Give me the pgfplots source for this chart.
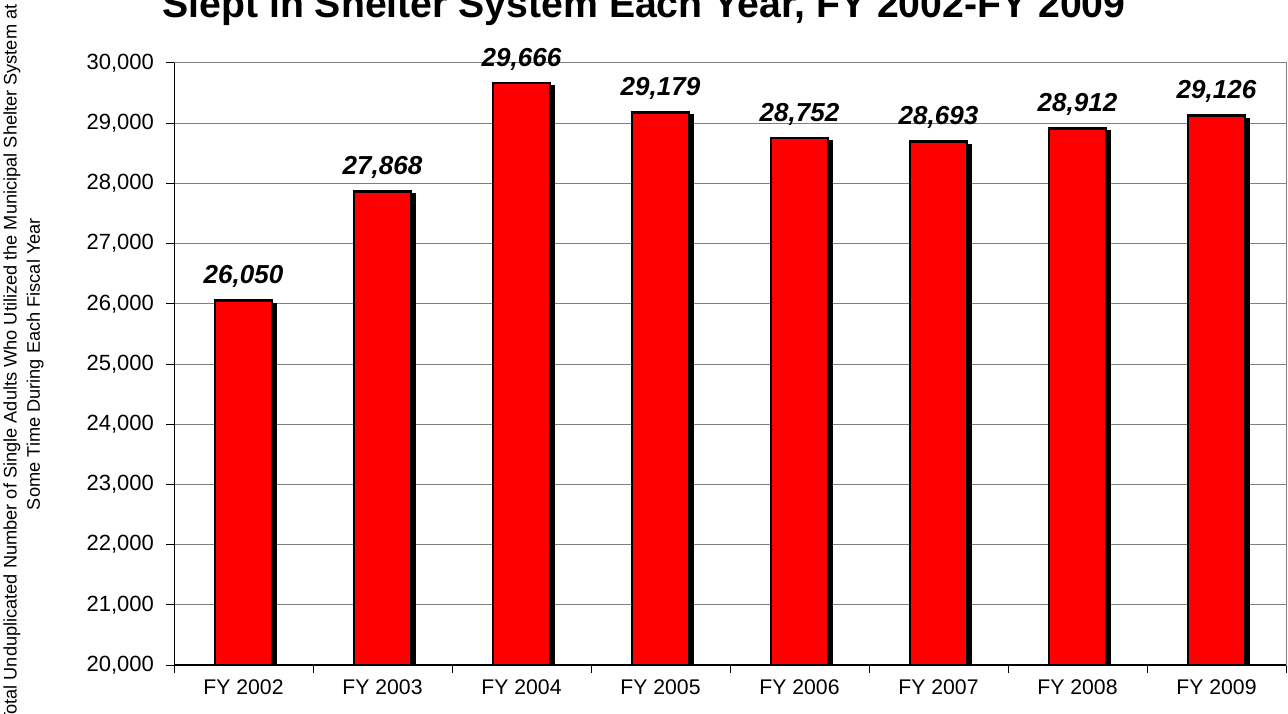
\documentclass[border=0pt]{standalone}
\usepackage{pgfplots}
\pgfplotsset{compat=1.18}
\usepackage{fontspec}
\setmainfont{Liberation Sans}
\definecolor{gridgray}{RGB}{128,128,128}
\begin{document}
\begin{tikzpicture}
\useasboundingbox (0,0) rectangle (644pt,356.5pt);
\clip (0,0) rectangle (644pt,356.5pt);
\node[anchor=base, inner sep=0pt, font=\fontsize{19.6}{23}\selectfont\bfseries] at (322pt,347.5pt) {Slept in Shelter System Each Year, FY 2002-FY 2009};
\node[rotate=90, anchor=base, inner sep=0pt, font=\fontsize{9.1}{11}\selectfont] at (8.3pt,174.5pt) {Total Unduplicated Number of Single Adults Who Utilized the Municipal Shelter System at};
\node[rotate=90, anchor=base, inner sep=0pt, font=\fontsize{9.1}{11}\selectfont] at (20pt,174.5pt) {Some Time During Each Fiscal Year};
\begin{axis}[
  at={(87pt,24pt)}, anchor=south west, scale only axis,
  width=556pt, height=301pt,
  xmin=-0.5, xmax=7.5, ymin=20000, ymax=30000,
  ytick={20000,21000,...,30000},
  scaled y ticks=false,
  yticklabel style={/pgf/number format/fixed, /pgf/number format/1000 sep={,}, font=\fontsize{11}{13}\selectfont, xshift=-2.5pt},
  xtick={-0.5,0.5,...,7.5}, x tick label as interval,
  xticklabels={FY 2002,FY 2003,FY 2004,FY 2005,FY 2006,FY 2007,FY 2008,FY 2009},
  xticklabel style={font=\fontsize{10.6}{12}\selectfont},
  tick pos=left,
  ymajorgrids, grid style={draw=gridgray, line width=0.5pt},
  axis line style={draw=gridgray, line width=0.5pt},
  tick align=outside, major tick length=4pt,
  tick style={black, line width=0.5pt},
  /pgf/number format/1000 sep={,}, /pgf/number format/assume math mode=true,
  ybar, bar width=28.5pt,
  nodes near coords,
  every node near coord/.append style={font=\fontsize{13}{15}\selectfont\bfseries\itshape, anchor=base, yshift=8.5pt, black},
]
\addplot[fill=red, draw=black, line width=1.3pt,
  preaction={fill=black, draw=black, transform canvas={xshift=1.6pt, yshift=-1.6pt}}]
  coordinates {(0,26050) (1,27868) (2,29666) (3,29179) (4,28752) (5,28693) (6,28912) (7,29126)};
\draw[black, line width=0.6pt] (rel axis cs:0,1) -- (rel axis cs:0,0) -- (rel axis cs:1,0);
\end{axis}
\end{tikzpicture}
\end{document}
